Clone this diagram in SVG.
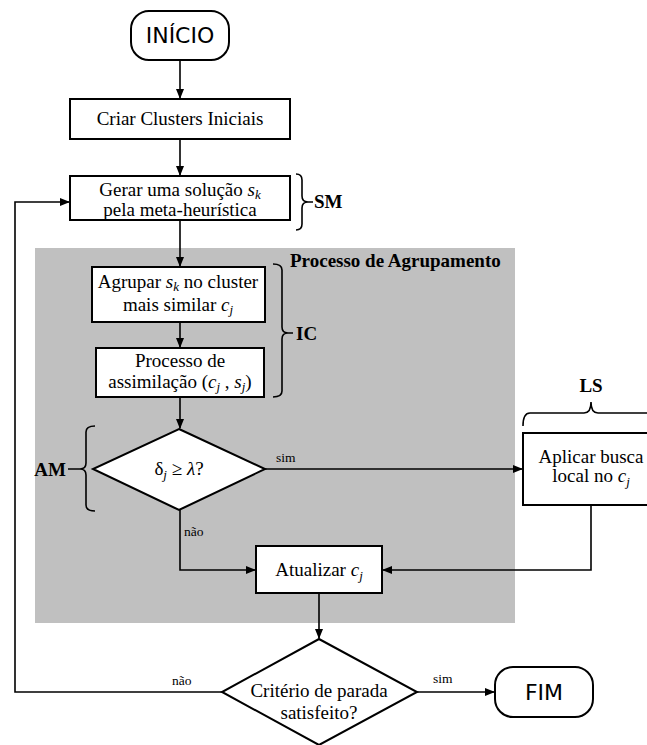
<svg xmlns="http://www.w3.org/2000/svg" width="647" height="745" viewBox="0 0 647 745">
<defs>
<marker id="ah" markerWidth="10" markerHeight="8" refX="9" refY="4" orient="auto" markerUnits="userSpaceOnUse">
<path d="M0,0 L10,4 L0,8 Z" fill="#000"/>
</marker>
<style>
.box{fill:#fff;stroke:#000;stroke-width:2}
.ln{fill:none;stroke:#000;stroke-width:1.6}
.br{fill:none;stroke:#000;stroke-width:1.6}
.t{font-family:"Liberation Serif","Times New Roman",serif;font-size:19px;fill:#000;text-anchor:middle}
.s{font-family:"Liberation Serif","Times New Roman",serif;font-size:13.5px;fill:#000}
.b{font-family:"Liberation Serif","Times New Roman",serif;font-size:19px;font-weight:bold;fill:#000}
.sans{font-family:"DejaVu Sans","Verdana",sans-serif;font-size:22px;fill:#000;text-anchor:middle}
.i{font-style:italic}
.sub{font-style:italic;font-size:13px}
</style>
</defs>
<rect x="35" y="248" width="480" height="375" fill="#c0c0c0"/>
<g id="connectors">
<line class="ln" x1="180" y1="60" x2="180" y2="98" marker-end="url(#ah)"/>
<line class="ln" x1="180" y1="139" x2="180" y2="175" marker-end="url(#ah)"/>
<line class="ln" x1="180" y1="220" x2="180" y2="266" marker-end="url(#ah)"/>
<line class="ln" x1="180" y1="322" x2="180" y2="347" marker-end="url(#ah)"/>
<line class="ln" x1="180" y1="397" x2="180" y2="428" marker-end="url(#ah)"/>
<line class="ln" x1="265" y1="469" x2="522" y2="469" marker-end="url(#ah)"/>
<polyline class="ln" points="180,510 180,570 255,570" marker-end="url(#ah)"/>
<polyline class="ln" points="591,505 591,570 383,570" marker-end="url(#ah)"/>
<line class="ln" x1="319" y1="593" x2="319" y2="638" marker-end="url(#ah)"/>
<line class="ln" x1="417" y1="692" x2="494" y2="692" marker-end="url(#ah)"/>
<polyline class="ln" points="223,692 15,692 15,202 69,202" marker-end="url(#ah)"/>
<text class="s" x="276" y="462">sim</text>
<text class="s" x="184" y="536">não</text>
<text class="s" x="172" y="685">não</text>
<text class="s" x="433" y="683">sim</text>
</g>
<g id="inicio">
<rect class="box" x="131" y="11" width="98" height="49" rx="18" ry="18"/>
<text class="sans" x="180" y="43">INÍCIO</text>
</g>
<g id="criar">
<rect class="box" x="70" y="99" width="220" height="40"/>
<text class="t" x="180" y="125">Criar Clusters Iniciais</text>
</g>
<g id="gerar">
<rect class="box" x="70" y="176" width="220" height="44"/>
<text class="t" x="180" y="196">Gerar uma solução <tspan class="i">s</tspan><tspan class="sub" dy="3">k</tspan></text>
<text class="t" x="180" y="216">pela meta-heurística</text>
</g>
<g id="sm">
<path class="br" d="M296,174 Q302,174 302,180 L302,196 Q302,202 308,202 Q302,202 302,208 L302,224 Q302,230 296,230 M308,202 L313,202"/>
<text class="b" x="314" y="208">SM</text>
</g>
<g id="agrupamento-label">
<text class="b" x="290" y="267">Processo de Agrupamento</text>
</g>
<g id="agrupar">
<rect class="box" x="92" y="267" width="173" height="55"/>
<text class="t" x="178" y="288">Agrupar <tspan class="i">s</tspan><tspan class="sub" dy="3">k</tspan><tspan dy="-3"> no cluster</tspan></text>
<text class="t" x="178" y="311">mais similar <tspan class="i">c</tspan><tspan class="sub" dy="3">j</tspan></text>
</g>
<g id="assimilacao">
<rect class="box" x="96" y="348" width="168" height="49"/>
<text class="t" x="180" y="367">Processo de</text>
<text class="t" x="180" y="388">assimilação (<tspan class="i">c</tspan><tspan class="sub" dy="3">j</tspan><tspan dy="-3"> , </tspan><tspan class="i">s</tspan><tspan class="sub" dy="3">j</tspan><tspan dy="-3">)</tspan></text>
</g>
<g id="ic">
<path class="br" d="M273,264 Q282,264 282,270 L282,327 Q282,333 288,333 Q282,333 282,339 L282,391 Q282,397 273,397 M288,333 L293,333"/>
<text class="b" x="296" y="340">IC</text>
</g>
<g id="decisao">
<polygon class="box" points="179,429 265,469 179,510 93,469"/>
<text class="t" x="179" y="475">δ<tspan class="sub" dy="4">j</tspan><tspan dy="-4"> ≥ </tspan><tspan class="i">λ</tspan>?</text>
</g>
<g id="am">
<path class="br" d="M95,426 Q86,426 86,432 L86,463 Q86,469 80,469 Q86,469 86,475 L86,505 Q86,511 95,511 M80,469 L68,469"/>
<text class="b" x="66" y="476" text-anchor="end">AM</text>
</g>
<g id="aplicar">
<rect class="box" x="523" y="433" width="140" height="72"/>
<text class="t" x="591" y="463">Aplicar busca</text>
<text class="t" x="591" y="482">local no <tspan class="i">c</tspan><tspan class="sub" dy="4">j</tspan></text>
</g>
<g id="ls">
<path class="br" d="M523,426 Q523,413 530,413 L584,413 Q591,413 591,402 Q591,413 598,413 L660,413"/>
<text class="b" x="591" y="392" text-anchor="middle">LS</text>
</g>
<g id="atualizar">
<rect class="box" x="256" y="546" width="126" height="47"/>
<text class="t" x="319" y="576">Atualizar <tspan class="i">c</tspan><tspan class="sub" dy="4">j</tspan></text>
</g>
<g id="criterio">
<polygon class="box" points="319,639 417,692 319,745 222,692"/>
<text class="t" x="319" y="697">Critério de parada</text>
<text class="t" x="319" y="719">satisfeito?</text>
</g>
<g id="fim">
<rect class="box" x="495" y="667" width="98" height="50" rx="18" ry="18"/>
<text class="sans" x="544" y="700">FIM</text>
</g>
</svg>
